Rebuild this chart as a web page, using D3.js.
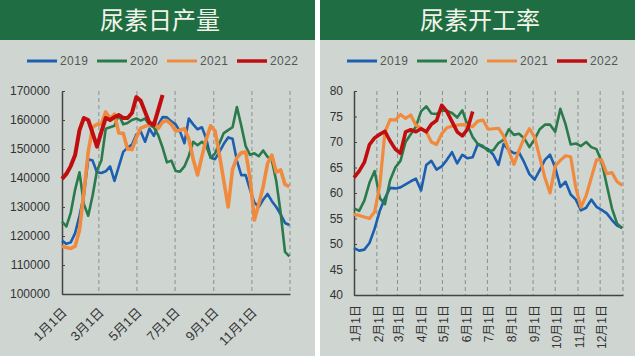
<!DOCTYPE html>
<html>
<head>
<meta charset="utf-8">
<script src="https://cdn.jsdelivr.net/npm/d3@7"></script>
<style>
  body { margin: 0; background: #fff; }
  svg { display: block; }
</style>
</head>
<body>
<div id="chart"></div>
<script>
// legend / series
const years = ["2019", "2020", "2021", "2022"];
const colors = ["#1c5fae", "#2a7a4b", "#f08a3e", "#c00d0d"];
const widths = [2.6, 2.6, 3.2, 3.6];

// weekly values, week i starts on day 7*i of the year
const output2019 = [118400, 117300, 117800, 121000, 127000, 134000, 146500, 146000, 142000, 141700,
  142300, 144000, 139000, 144000, 149000, 150500, 151500, 155000, 156000, 152500,
  157000, 154500, 158300, 161000, 160900, 159500, 158500, 156000, 152000, 160500,
  158500, 156800, 157500, 153500, 147000, 146500, 149000, 151800, 154000, 153500,
  146000, 141000, 141000, 136000, 131500, 130000, 132500, 134500, 132000, 130000,
  127500, 124500, 123800];
const output2020 = [125000, 123300, 128000, 136000, 142000, 131000, 127000, 134000, 142500, 146000,
  157000, 157500, 158000, 161800, 158500, 159000, 160000, 160500, 159800, 160500,
  158300, 157500, 154800, 150500, 145400, 146000, 142400, 142200, 144000, 147600,
  152500, 151300, 152500, 151000, 147000, 148500, 152000, 155500, 156500, 157500,
  164500, 158000, 151000, 148000, 148500, 147500, 149500, 147300, 146000, 139000,
  128000, 114500, 113000];
const output2021 = [116400, 116000, 115700, 116500, 122000, 135000, 149000, 157500, 158500, 158600,
  162800, 160500, 162000, 155500, 155400, 150000, 149800, 154000, 157200, 157800,
  158400, 159200, 157100, 159300, 159800, 158500, 156200, 156500, 157000, 153500,
  146500, 141000, 147500, 153500, 158000, 156200, 148000, 139000, 130000, 143000,
  147000, 148700, 149000, 140000, 125500, 131000, 137000, 145000, 147900, 142000,
  142800, 137800, 137000];
const output2022 = [139700, 141400, 144100, 147900, 156500, 160700, 160000, 155500, 150800, 155900,
  160700, 160000, 161000, 161700, 160700, 160700, 162400, 167900, 166600, 162800,
  159000, 158300, 163400, 168600];

const rate2019 = [49.2, 48.7, 48.9, 50.2, 53.0, 56.5, 59.0, 61.0, 60.9, 61.1,
  61.7, 62.3, 62.8, 60.5, 65.5, 66.3, 64.6, 65.2, 66.5, 68.0,
  65.8, 67.5, 66.8, 67.0, 69.6, 69.0, 68.6, 67.5, 65.5, 69.6,
  68.4, 67.8, 67.9, 66.0, 63.7, 62.6, 64.5, 66.5, 67.5, 65.0,
  61.2, 62.2, 59.7, 58.7, 56.6, 57.1, 58.7, 57.3, 56.7, 56.0,
  54.7, 53.6, 53.1];
const rate2020 = [57.0, 56.5, 58.5, 62.0, 64.3, 59.0, 57.8, 62.5, 65.0, 66.3,
  70.0, 71.5, 73.0, 76.0, 77.0, 75.6, 75.5, 76.2, 76.1, 75.7,
  74.8, 76.2, 73.3, 71.0, 69.6, 69.2, 68.2, 68.4, 69.8, 70.4,
  72.5, 71.4, 71.6, 70.7, 69.0, 70.5, 72.5, 73.4, 73.4, 72.0,
  76.5, 73.5, 69.5, 69.7, 69.2, 70.0, 69.0, 68.6, 66.2, 61.5,
  57.0, 54.0, 53.1];
const rate2021 = [55.8, 55.6, 55.3, 55.0, 56.3, 61.5, 72.0, 74.4, 74.3, 75.4,
  74.6, 75.3, 73.3, 72.7, 72.0, 70.0, 69.5, 71.6, 72.8, 73.1,
  73.3, 73.4, 73.3, 73.0, 74.1, 74.3, 72.5, 72.6, 72.7, 71.2,
  68.3, 65.6, 68.4, 70.8, 72.6, 71.0, 67.0, 63.0, 60.0, 65.3,
  66.4, 67.3, 67.1, 61.0, 57.2, 59.5, 63.0, 66.5, 66.5, 63.8,
  64.0, 62.2, 61.5];
const rate2022 = [63.0, 64.3, 66.0, 69.5, 70.8, 71.5, 72.1, 70.2, 68.6, 67.8,
  72.0, 72.4, 72.0, 72.6, 72.0, 73.5, 74.2, 77.2, 76.0, 74.0,
  72.0, 71.2, 72.5, 76.0];

// x ticks (day of year) and labels
const leftTickDays = [0, 59, 120, 181, 243, 304];
const leftTickLabels = ["1月1日", "3月1日", "5月1日", "7月1日", "9月1日", "11月1日"];
const leftGridDays = [59, 120, 181, 243, 304, 365];
const rightTickDays = [0, 31, 59, 90, 120, 151, 181, 212, 243, 273, 304, 334];
const rightTickLabels = ["1月1日", "2月1日", "3月1日", "4月1日", "5月1日", "6月1日",
  "7月1日", "8月1日", "9月1日", "10月1日", "11月1日", "12月1日"];
const rightGridDays = [31, 59, 90, 120, 151, 181, 212, 243, 273, 304, 334, 365];

const leftYTicks = [100000, 110000, 120000, 130000, 140000, 150000, 160000, 170000];
const rightYTicks = [40, 45, 50, 55, 60, 65, 70, 75, 80];

const svg = d3.select("#chart").append("svg")
  .attr("width", 640)
  .attr("height", 361);

const labelFont = "'Liberation Sans', Arial, 'Noto Sans CJK SC', sans-serif";

function drawPanel(p) {
  const g = svg.append("g").attr("transform", `translate(${p.left}, 0)`);

  // background + title bar
  g.append("rect").attr("width", 315).attr("height", 356).attr("fill", "#cfd6d2");
  g.append("rect").attr("width", 315).attr("height", 40).attr("fill", "#1f6d42");
  g.append("text")
    .attr("x", 160).attr("y", 29)
    .attr("text-anchor", "middle")
    .attr("fill", "#f2f4ea")
    .style("font-family", "'Noto Sans CJK SC', sans-serif")
    .style("font-size", "24px")
    .text(p.title);

  // legend
  years.forEach((yr, i) => {
    const lx = 27 + i * 70;
    g.append("line")
      .attr("x1", lx).attr("x2", lx + 30)
      .attr("y1", 61).attr("y2", 61)
      .attr("stroke", colors[i]).attr("stroke-width", i === 3 ? 3.5 : 3);
    g.append("text")
      .attr("x", lx + 33).attr("y", 65)
      .attr("fill", "#555")
      .style("font-family", labelFont)
      .style("font-size", "12px")
      .style("letter-spacing", "0.4px")
      .text(yr);
  });

  const x = d3.scaleLinear().domain([0, 365]).range([p.x0 - p.left, p.x1 - p.left]);
  const y = d3.scaleLinear().domain(p.yDomain).range([p.y0, 91]);

  // dashed grid
  g.append("g").selectAll("line")
    .data(p.gridDays)
    .join("line")
    .attr("x1", d => x(d)).attr("x2", d => x(d))
    .attr("y1", 91).attr("y2", p.y0)
    .attr("stroke", "#8a8f8c")
    .attr("stroke-width", 1)
    .attr("stroke-dasharray", "4,3");

  // y axis
  const yAxis = g.append("g")
    .attr("transform", `translate(${x(0)}, 0)`)
    .call(d3.axisLeft(y).tickValues(p.yTicks).tickFormat(d3.format("d"))
      .tickSize(-3).tickSizeOuter(0).tickPadding(p.yPad));
  yAxis.select(".domain").attr("stroke", "#444").attr("stroke-width", 1.5);
  yAxis.selectAll(".tick line").attr("stroke", "#444");
  yAxis.selectAll("text")
    .attr("fill", "#333")
    .style("font-family", labelFont)
    .style("font-size", "12px");

  // x axis
  const xAxis = g.append("g")
    .attr("transform", `translate(0, ${p.y0})`)
    .call(d3.axisBottom(x).tickValues(p.tickDays)
      .tickFormat((d, i) => p.tickLabels[i]).tickSize(0).tickSizeOuter(0));
  xAxis.select(".domain").attr("stroke", "#444").attr("stroke-width", 1.5);
  xAxis.selectAll("text")
    .attr("fill", "#333")
    .attr("x", 0).attr("y", 0)
    .attr("dy", "0.35em")
    .attr("text-anchor", "end")
    .attr("transform", p.labelTransform)
    .style("font-family", labelFont)
    .style("font-size", p.xFontSize);

  // series
  const line = d3.line()
    .x((d, i) => x(i * 7))
    .y(d => y(d));

  p.series.forEach((s, i) => {
    g.append("path")
      .datum(s)
      .attr("fill", "none")
      .attr("stroke", colors[i])
      .attr("stroke-width", widths[i] + p.extraWidth[i])
      .attr("stroke-linejoin", "round")
      .attr("d", line);
  });
}

drawPanel({
  left: 0, title: "尿素日产量",
  x0: 62, x1: 290, y0: 294,
  yDomain: [100000, 170000], yTicks: leftYTicks, yPad: 12,
  tickDays: leftTickDays, tickLabels: leftTickLabels, gridDays: leftGridDays,
  labelTransform: "translate(2, 16) rotate(-45)", xFontSize: "13px",
  series: [output2019, output2020, output2021, output2022],
  extraWidth: [0, 0, 0.4, 0.4]
});

drawPanel({
  left: 320, title: "尿素开工率",
  x0: 354, x1: 623, y0: 295,
  yDomain: [40, 80], yTicks: rightYTicks, yPad: 11,
  tickDays: rightTickDays, tickLabels: rightTickLabels, gridDays: rightGridDays,
  labelTransform: "translate(1, 10) rotate(-90)", xFontSize: "12px",
  series: [rate2019, rate2020, rate2021, rate2022],
  extraWidth: [0, 0, 0, 0]
});
</script>
</body>
</html>
